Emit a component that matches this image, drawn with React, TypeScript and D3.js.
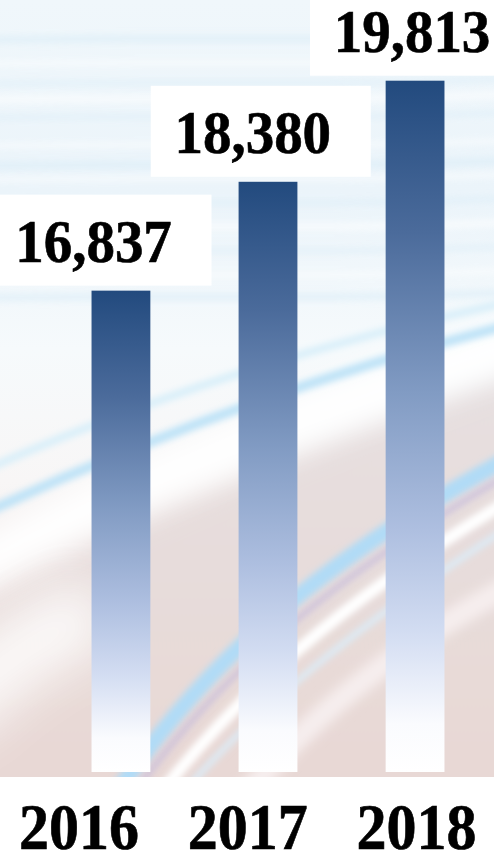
import React from "react";
import * as d3 from "d3";

const years = ["2016", "2017", "2018"];
const values = [16837, 18380, 19813];
const valueLabels = ["16,837", "18,380", "19,813"];

const W = 494;
const H = 852;
const BG_BOTTOM = 777;

export default function App() {
  const x = d3.scaleBand<string>().domain(years).range([18, 518]).paddingInner(0.6).paddingOuter(0.5);
  const y = d3.scaleLinear().domain([10000, 20000]).range([773, 67.5]);
  const labelX = d3.scalePoint<string>().domain(years).range([93.5, 412]);
  const yearX = d3.scalePoint<string>().domain(years).range([79, 416.5]);
  const base = y(10000) - 1;

  const topStreaks = [40, 64, 84, 100, 118, 146, 166, 180, 204, 228, 252, 276, 298];

  const filt = (id: string, sd: number) => (
    <filter id={id} filterUnits="userSpaceOnUse" x={-200} y={-200} width={900} height={1300}>
      <feGaussianBlur stdDeviation={sd} />
    </filter>
  );

  return (
    <div style={{ position: "fixed", left: 0, top: 0, width: W, height: H, background: "#fff" }}>
      <svg width={W} height={H} style={{ display: "block" }}>
        <defs>
          <linearGradient id="bg" x1="0" y1="0" x2="0" y2="1">
            <stop offset="0" stopColor="#f0f7fb" />
            <stop offset="0.25" stopColor="#ebf4fa" />
            <stop offset="0.45" stopColor="#f6fafc" />
            <stop offset="0.62" stopColor="#f8f6f6" />
            <stop offset="1" stopColor="#eadcda" />
          </linearGradient>
          <linearGradient id="pink" x1="0" y1="0" x2="0" y2="1">
            <stop offset="0" stopColor="#e6e0e1" />
            <stop offset="1" stopColor="#e8d7d3" />
          </linearGradient>
          <linearGradient id="barGrad" x1="0" y1="0" x2="0" y2="1">
            <stop offset="0" stopColor="#224a7e" />
            <stop offset="0.22" stopColor="#4b6b9b" />
            <stop offset="0.45" stopColor="#819bc3" />
            <stop offset="0.65" stopColor="#aebfe0" />
            <stop offset="0.8" stopColor="#d3ddf2" />
            <stop offset="0.93" stopColor="#fafbfe" />
            <stop offset="1" stopColor="#ffffff" />
          </linearGradient>
          {filt("blur3", 3)}
          {filt("blur6", 6)}
          {filt("blur14", 14)}
          {filt("blur25", 25)}
          <clipPath id="bgClip">
            <rect x={0} y={0} width={W} height={BG_BOTTOM} />
          </clipPath>
        </defs>

        <g clipPath="url(#bgClip)">
          <rect x={0} y={0} width={W} height={BG_BOTTOM} fill="url(#bg)" />
          {topStreaks.map((sy, i) => (
            <path
              key={"ts" + i}
              d={`M-20,${sy} C150,${sy - 4} 330,${sy + 3} 520,${sy - 6}`}
              stroke={i % 2 === 0 ? "#d9ecf7" : "#ffffff"}
              strokeWidth={i % 3 === 0 ? 8 : 5}
              fill="none"
              opacity={0.55}
              filter="url(#blur3)"
            />
          ))}
          {/* pink lower region */}
          <path
            d="M-40,610 C120,520 300,450 540,360 L540,820 L-40,820 Z"
            fill="url(#pink)"
            filter="url(#blur14)"
          />
          {/* white band above pink */}
          <path d="M-40,575 C120,485 300,415 540,335" stroke="#ffffff" strokeWidth={44} fill="none" filter="url(#blur14)" />
          {/* upper blue streaks */}
          <path d="M-20,515 C120,450 300,378 520,322" stroke="#bfe3f7" strokeWidth={10} fill="none" filter="url(#blur3)" />
          <path d="M-20,472 C120,410 300,345 520,300" stroke="#d9eff9" strokeWidth={8} fill="none" filter="url(#blur3)" />
          {/* soft white glow in left lower area */}
          <path d="M-60,720 C0,660 50,630 100,610" stroke="#ffffff" strokeWidth={70} fill="none" filter="url(#blur25)" opacity={0.85} />
          {/* lower diagonal streaks */}
          <path d="M105,810 C190,680 300,570 520,452" stroke="#b1dbf6" strokeWidth={16} fill="none" filter="url(#blur3)" />
          <path d="M122,810 C205,690 315,585 520,468" stroke="#c8bddb" strokeWidth={6} fill="none" filter="url(#blur3)" opacity={0.8} />
          <path d="M148,810 C230,700 340,600 520,494" stroke="#ffffff" strokeWidth={12} fill="none" filter="url(#blur3)" />
          <path d="M168,810 C250,712 360,622 520,520" stroke="#dcebf6" strokeWidth={6} fill="none" filter="url(#blur3)" />
          <path d="M235,810 C300,722 400,642 540,570" stroke="#f6eeee" strokeWidth={22} fill="none" filter="url(#blur6)" />
        </g>

        {/* bars */}
        {years.map((yr, i) => (
          <rect
            key={"bar" + yr}
            x={x(yr)}
            y={y(values[i])}
            width={x.bandwidth()}
            height={base - y(values[i])}
            fill="url(#barGrad)"
          />
        ))}

        {/* value labels */}
        {years.map((yr, i) => {
          const cx = labelX(yr) as number;
          const top = y(values[i]);
          return (
            <g key={"lbl" + yr}>
              <rect x={cx - 102} y={top - 96} width={220} height={91} fill="#ffffff" />
              <text
                transform={`translate(${cx},${top - 29}) scale(1,1.07)`}
                textAnchor="middle"
                fontFamily="'Liberation Serif', 'Times New Roman', serif"
                fontWeight="bold"
                fontSize={57}
                fill="#000"
                stroke="#000"
                strokeWidth={0.6}
              >
                {valueLabels[i]}
              </text>
            </g>
          );
        })}

        {/* year labels */}
        {years.map((yr) => (
          <text
            key={"yr" + yr}
            transform={`translate(${yearX(yr)},849) scale(1,1.08)`}
            textAnchor="middle"
            fontFamily="'Liberation Serif', 'Times New Roman', serif"
            fontWeight="bold"
            fontSize={60}
            fill="#000"
            stroke="#000"
            strokeWidth={0.6}
          >
            {yr}
          </text>
        ))}
      </svg>
    </div>
  );
}
